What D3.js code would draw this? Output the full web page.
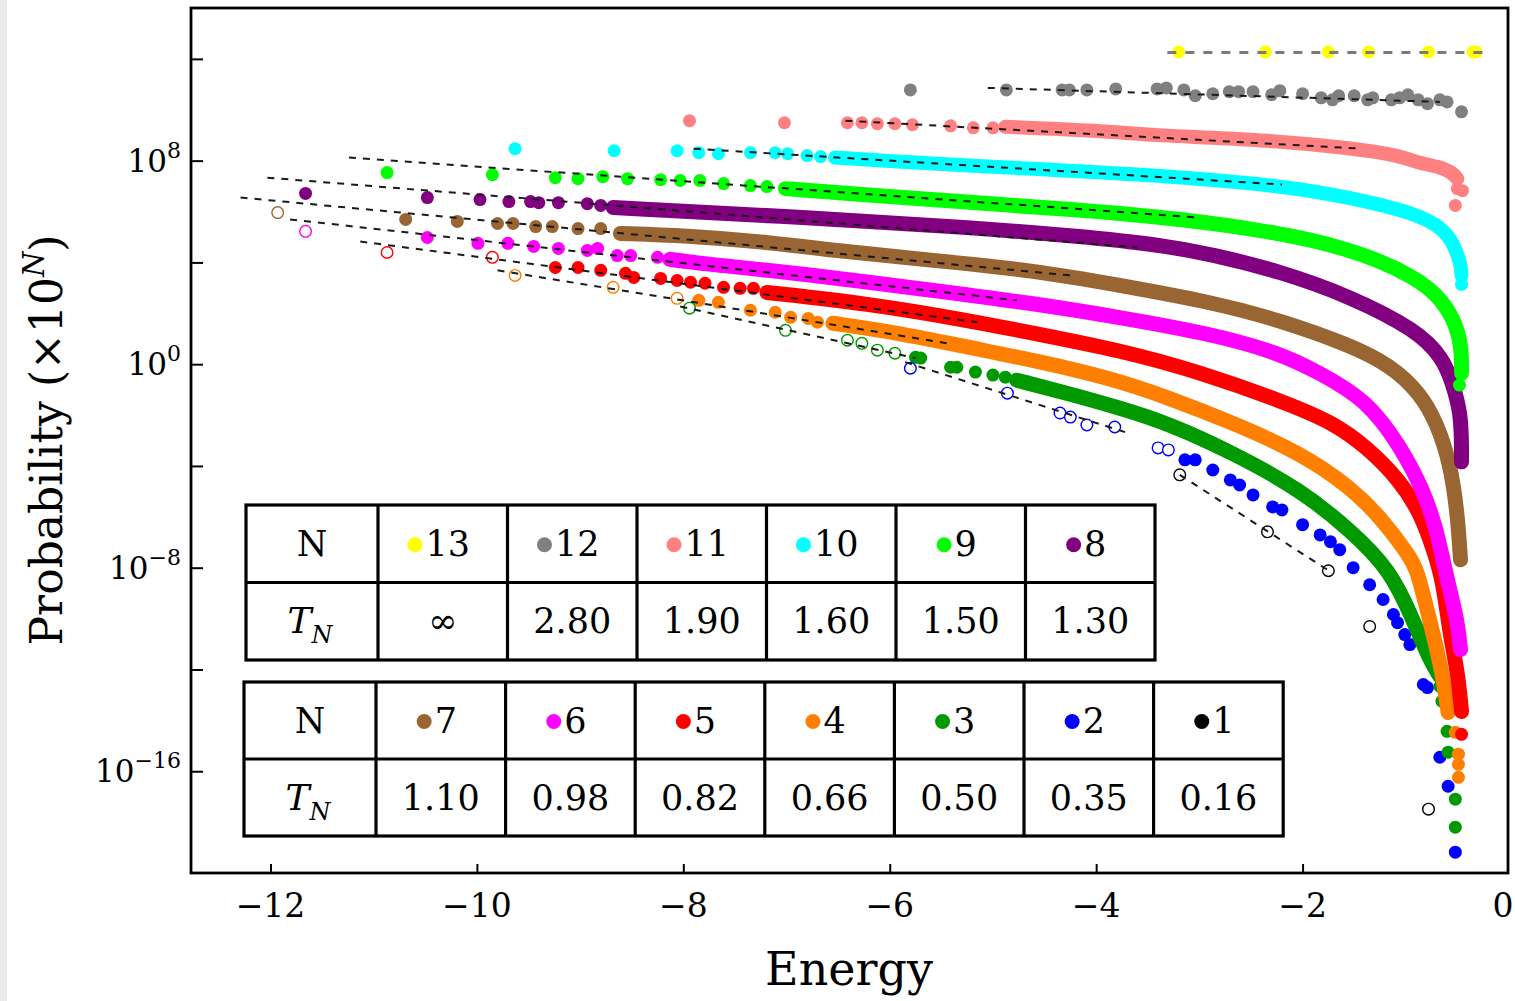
<!DOCTYPE html>
<html><head><meta charset="utf-8">
<script src="https://cdn.jsdelivr.net/npm/d3@7"></script>
<style>
html,body{margin:0;padding:0;background:#fff;}
svg{display:block;}
text{font-family:"DejaVu Serif",serif;fill:#000;}
</style></head><body>
<svg id="chart" width="1515" height="1001"></svg>
<script>
// Energy (x) and log10 of probability, in units of 10^N (y), per cluster size N.
const xTicks = [-12, -10, -8, -6, -4, -2, 0];
const yTicks = [-16, -12, -8, -4, 0, 4, 8, 12];
const yTickLabels = [-16, -8, 0, 8];

const n13Dots = [[-3.20,12.27],[-2.36,12.27],[-1.75,12.27],[-1.36,12.27],[-0.78,12.27],[-0.35,12.27],[-0.32,12.27]];
const n13Fit = [[-3.31,12.25],[-0.21,12.25]];

const n12Dots = [[-5.80,10.78],[-4.87,10.78],[-4.33,10.78],[-4.26,10.78],[-4.09,10.78],[-3.81,10.82],[-3.41,10.82],[-3.32,10.86],
  [-3.15,10.78],[-3.04,10.55],[-2.87,10.63],[-2.71,10.71],[-2.62,10.71],[-2.48,10.71],[-2.30,10.59],[-2.22,10.75],[-2.00,10.63],
  [-1.82,10.47],[-1.71,10.39],[-1.65,10.55],[-1.50,10.55],[-1.37,10.39],[-1.32,10.47],[-1.14,10.39],[-1.06,10.47],[-0.98,10.59],
  [-0.88,10.39],[-0.79,10.24],[-0.67,10.39],[-0.60,10.31],[-0.46,9.92]];
const n12Fit = [[-5.05,10.86],[-0.67,10.31]];

const n11Dots = [[-7.94,9.57],[-7.02,9.49],[-6.41,9.49],[-6.27,9.49],[-6.12,9.45],[-5.95,9.45],[-5.78,9.41],[-5.41,9.37],
  [-5.19,9.29],[-5.00,9.29],[-0.50,6.90],[-0.45,6.82],[-0.52,6.24]];
const n11Band = [[-4.88,9.33],[-3.96,9.18],[-3.41,8.98],[-2.51,8.86],[-1.54,8.51],[-1.06,8.20],[-0.89,7.92],[-0.67,7.76],[-0.55,7.53],[-0.50,7.29]];
const n11Fit = [[-6.43,9.57],[-1.42,8.47]];

const n10Dots = [[-9.63,8.47],[-8.67,8.39],[-8.06,8.39],[-7.85,8.31],[-7.66,8.27],[-7.35,8.31],[-7.11,8.31],[-6.99,8.27],
  [-6.80,8.20],[-6.67,8.16],[-0.46,3.14]];
const n10Band = [[-6.53,8.12],[-5.83,7.94],[-5.19,7.80],[-4.54,7.66],[-3.48,7.45],[-2.19,7.02],[-1.54,6.55],[-0.89,5.92],
  [-0.64,5.33],[-0.54,4.75],[-0.47,4.00],[-0.46,3.50]];
const n10Fit = [[-7.90,8.47],[-2.20,7.06]];

const n9Dots = [[-10.87,7.53],[-9.85,7.45],[-9.24,7.33],[-9.02,7.29],[-8.78,7.37],[-8.54,7.29],[-8.22,7.25],[-8.03,7.22],
  [-7.84,7.22],[-7.61,7.10],[-7.35,7.02],[-7.19,6.98],[-0.48,-0.82]];
const n9Band = [[-7.01,6.90],[-6.16,6.63],[-5.19,6.35],[-4.22,6.08],[-3.41,5.80],[-2.51,5.37],[-1.54,4.59],[-0.89,3.41],
  [-0.64,2.51],[-0.50,1.45],[-0.46,0.55],[-0.46,-0.35]];
const n9Fit = [[-11.24,8.12],[-2.99,5.76]];

const n8Dots = [[-11.66,6.71],[-10.48,6.55],[-9.97,6.47],[-9.69,6.39],[-9.48,6.39],[-9.40,6.35],[-9.21,6.35],[-8.93,6.31],[-8.80,6.24]];
const n8Band = [[-8.68,6.16],[-6.80,5.76],[-5.19,5.37],[-4.15,5.02],[-3.41,4.71],[-2.87,4.31],[-2.22,3.65],
  [-1.54,2.67],[-0.89,1.33],[-0.64,0.24],[-0.54,-0.82],[-0.47,-1.92],[-0.46,-2.98],[-0.46,-3.84]];
const n8Fit = [[-12.03,7.33],[-3.60,4.59]];

const n7Open = [[-11.93,5.96]];
const n7Dots = [[-10.69,5.69],[-10.19,5.61],[-9.80,5.53],[-9.65,5.53],[-9.43,5.41],[-9.27,5.41],[-9.02,5.33],[-8.80,5.33]];
const n7Band = [[-8.61,5.14],[-8.00,5.06],[-7.13,4.78],[-6.55,4.47],[-5.58,4.08],[-4.61,3.69],[-3.77,3.10],[-2.87,2.43],
  [-2.22,1.73],[-1.54,0.75],[-1.15,-0.04],[-0.86,-1.14],[-0.70,-2.31],[-0.57,-3.88],[-0.50,-5.84],[-0.47,-7.69]];
const n7Fit = [[-12.29,6.55],[-4.25,3.49]];

const n6Open = [[-11.66,5.22]];
const n6Dots = [[-10.48,4.98],[-9.99,4.75],[-9.70,4.75],[-9.45,4.63],[-9.21,4.55],[-8.93,4.47],[-8.83,4.55],[-8.64,4.27],
  [-8.51,4.27],[-8.25,4.20]];
const n6Band = [[-8.13,4.12],[-7.84,3.96],[-6.87,3.57],[-5.58,2.90],[-4.61,2.39],[-3.77,1.84],[-2.87,1.18],[-2.22,0.43],
  [-1.83,-0.35],[-1.38,-1.41],[-1.06,-3.18],[-0.83,-4.94],[-0.70,-6.51],[-0.60,-8.47],[-0.50,-10.04],[-0.47,-11.22]];
const n6Fit = [[-11.81,5.69],[-4.77,2.51]];

const n5Open = [[-10.87,4.39],[-9.85,4.20]];
const n5Dots = [[-9.24,3.80],[-9.02,3.80],[-8.80,3.69],[-8.56,3.57],[-8.48,3.41],[-8.22,3.37],[-8.06,3.29],[-7.93,3.22],
  [-7.79,3.18],[-7.61,3.02],[-7.45,2.98],[-7.32,2.98],[-0.46,-14.55]];
const n5Band = [[-7.19,2.82],[-6.22,2.39],[-5.25,1.73],[-4.61,1.22],[-3.77,0.55],[-2.99,-0.31],[-2.15,-1.53],[-1.70,-2.31],
  [-1.38,-3.25],[-1.06,-4.55],[-0.86,-5.84],[-0.74,-7.18],[-0.64,-8.47],[-0.57,-10.71],[-0.50,-12.00],[-0.46,-13.65]];
const n5Fit = [[-11.13,4.82],[-5.15,1.65]];

const n4Open = [[-9.63,3.49],[-8.68,3.02],[-8.06,2.59]];
const n4Dots = [[-7.85,2.51],[-7.66,2.43],[-7.35,2.12],[-7.11,2.04],[-6.96,1.84],[-6.79,1.80],[-6.70,1.65],
  [-0.52,-14.47],[-0.49,-15.33],[-0.49,-15.73],[-0.49,-16.24]];
const n4Band = [[-6.55,1.61],[-5.90,1.22],[-5.25,0.67],[-4.61,0.16],[-3.86,-0.55],[-3.31,-1.30],[-2.67,-2.31],[-2.02,-3.49],
  [-1.54,-4.82],[-1.22,-6.12],[-0.96,-7.57],[-0.89,-8.08],[-0.77,-10.04],[-0.65,-12.00],[-0.59,-13.69]];
const n4Fit = [[-9.80,3.69],[-5.44,0.82]];

const n3Open = [[-7.94,2.20],[-7.01,1.33],[-6.41,0.94],[-6.27,0.82],[-6.12,0.55],[-5.95,0.43]];
const n3Dots = [[-5.75,0.27],[-5.70,0.24],[-5.41,-0.12],[-5.35,-0.12],[-5.17,-0.31],[-5.00,-0.43],[-4.88,-0.51],
  [-0.67,-12.67],[-0.65,-13.25],[-0.60,-14.43],[-0.59,-15.25],[-0.52,-17.10],[-0.52,-18.20]];
const n3Band = [[-4.77,-0.63],[-4.28,-1.14],[-3.77,-1.72],[-3.31,-2.31],[-2.67,-3.49],[-2.02,-4.94],[-1.54,-6.51],
  [-1.15,-8.08],[-0.93,-10.04],[-0.77,-11.61],[-0.67,-12.27]];
const n3Fit = [[-8.03,2.27],[-5.75,0.24]];

const n2Open = [[-5.80,-0.16],[-4.86,-1.14],[-4.35,-1.92],[-4.25,-2.08],[-4.09,-2.39],[-3.82,-2.47],[-3.40,-3.29],[-3.30,-3.37]];
const n2Dots = [[-3.14,-3.76],[-3.04,-3.76],[-2.87,-4.16],[-2.70,-4.55],[-2.61,-4.75],[-2.48,-5.14],[-2.29,-5.61],[-2.20,-5.73],
  [-2.00,-6.31],[-1.83,-6.71],[-1.73,-6.98],[-1.64,-7.29],[-1.51,-8.00],[-1.35,-8.67],[-1.22,-9.25],[-1.12,-9.84],[-1.08,-10.16],
  [-1.01,-10.63],[-0.96,-11.02],[-0.83,-12.59],[-0.79,-12.71],[-0.67,-15.45],[-0.59,-16.59],[-0.52,-19.18]];
const n2Fit = [[-5.85,0.08],[-3.72,-2.67]];

const n1Open = [[-3.19,-4.35],[-2.34,-6.59],[-1.75,-8.12],[-1.35,-10.31],[-0.78,-17.49]];
const n1Fit = [[-3.19,-4.35],[-1.73,-8.16]];

// Table contents: cluster size N and its temperature T_N
const tableTopN = [13, 12, 11, 10, 9, 8];
const tableTopT = ["∞", "2.80", "1.90", "1.60", "1.50", "1.30"];
const tableBottomN = [7, 6, 5, 4, 3, 2, 1];
const tableBottomT = ["1.10", "0.98", "0.82", "0.66", "0.50", "0.35", "0.16"];

const colour = {1:"#000000",2:"#0000ff",3:"#009a00",4:"#ff8000",5:"#ff0000",6:"#ff00ff",7:"#996633",
  8:"#800080",9:"#00ff00",10:"#00ffff",11:"#ff8080",12:"#808080",13:"#ffff00"};

const series = [
  {n:1, open:n1Open, fit:n1Fit},
  {n:2, dots:n2Dots, open:n2Open, fit:n2Fit},
  {n:3, dots:n3Dots, band:n3Band, open:n3Open, fit:n3Fit},
  {n:4, dots:n4Dots, band:n4Band, open:n4Open, fit:n4Fit},
  {n:5, dots:n5Dots, band:n5Band, open:n5Open, fit:n5Fit},
  {n:6, dots:n6Dots, band:n6Band, open:n6Open, fit:n6Fit},
  {n:7, dots:n7Dots, band:n7Band, open:n7Open, fit:n7Fit},
  {n:8, dots:n8Dots, band:n8Band, fit:n8Fit},
  {n:9, dots:n9Dots, band:n9Band, fit:n9Fit},
  {n:10, dots:n10Dots, band:n10Band, fit:n10Fit},
  {n:11, dots:n11Dots, band:n11Band, fit:n11Fit},
  {n:12, dots:n12Dots, fit:n12Fit},
  {n:13, dots:n13Dots, fit:n13Fit}
];

const W = 1515, H = 1001;
const plot = {left:191, right:1508, top:8, bottom:873};
const svg = d3.select("#chart");
svg.append("rect").attr("width", W).attr("height", H).attr("fill", "#fff");
svg.append("rect").attr("width", 7).attr("height", H).attr("fill", "#ebebeb");

const x = d3.scaleLinear().domain([-12.77, 0]).range([plot.left, 1509]);
const y = d3.scaleLinear().domain([-20, 14]).range([plot.bottom, plot.top]);

svg.append("clipPath").attr("id", "plotClip").append("rect")
  .attr("x", plot.left).attr("y", plot.top)
  .attr("width", plot.right - plot.left).attr("height", plot.bottom - plot.top);

const marks = svg.append("g").attr("clip-path", "url(#plotClip)");
const R = 6.5;
const bandLine = d3.line().x(d => x(d[0])).y(d => y(d[1])).curve(d3.curveBasis);

// dense parts as thick strokes, sparse parts as individual dots
series.forEach(s => {
  const g = marks.append("g");
  if (s.band) {
    g.append("path").attr("d", bandLine(s.band)).attr("fill", "none")
      .attr("stroke", colour[s.n]).attr("stroke-width", s.n >= 10 ? 14 : 15)
      .attr("stroke-linecap", "round").attr("stroke-linejoin", "round");
  }
  if (s.dots) {
    g.selectAll("circle").data(s.dots).join("circle")
      .attr("cx", d => x(d[0])).attr("cy", d => y(d[1])).attr("r", R)
      .attr("fill", colour[s.n]);
  }
});

// hollow markers
series.filter(s => s.open).forEach(s => {
  marks.append("g").selectAll("circle").data(s.open).join("circle")
    .attr("cx", d => x(d[0])).attr("cy", d => y(d[1])).attr("r", 5.8)
    .attr("fill", "#fff").attr("stroke", colour[s.n]).attr("stroke-width", 1.4);
});

// dashed exponential fits
series.forEach(s => {
  const top = s.n === 13;
  marks.append("line")
    .attr("x1", x(s.fit[0][0])).attr("y1", y(s.fit[0][1]))
    .attr("x2", x(s.fit[1][0])).attr("y2", y(s.fit[1][1]))
    .attr("stroke", top ? "#7a7a7a" : "#1a1a1a")
    .attr("stroke-width", top ? 2.8 : 2)
    .attr("stroke-dasharray", top ? "9,9" : "7,7");
});

// axes: inward ticks
svg.append("g").attr("transform", `translate(${plot.left},0)`)
  .call(d3.axisLeft(y).tickValues(yTicks).tickSize(-12).tickFormat(""))
  .call(g => g.select(".domain").remove())
  .call(g => g.selectAll("line").attr("stroke", "#000").attr("stroke-width", 2));
svg.append("g").attr("transform", `translate(0,${plot.bottom})`)
  .call(d3.axisBottom(x).tickValues(xTicks.filter(t => t < 0)).tickSize(-9).tickFormat(""))
  .call(g => g.select(".domain").remove())
  .call(g => g.selectAll("line").attr("stroke", "#000").attr("stroke-width", 2));

svg.append("rect").attr("x", plot.left).attr("y", plot.top)
  .attr("width", plot.right - plot.left).attr("height", plot.bottom - plot.top)
  .attr("fill", "none").attr("stroke", "#000").attr("stroke-width", 2.8);

const fmt = v => (v < 0 ? "\u2212" : "") + Math.abs(v);

// y tick labels as powers of ten
yTickLabels.forEach(k => {
  const t = svg.append("text").attr("x", 181).attr("y", y(k) + 11)
    .attr("text-anchor", "end").attr("font-size", 31);
  t.append("tspan").text("10");
  t.append("tspan").attr("font-size", 22).attr("dy", -14).text(fmt(k));
});

// x tick labels (the last one kept inside the canvas)
svg.append("g").selectAll("text").data(xTicks).join("text")
  .attr("x", d => d === 0 ? 1503 : x(d)).attr("y", 917).attr("text-anchor", "middle")
  .attr("font-size", 33).text(d => fmt(d));

svg.append("text").attr("x", 849).attr("y", 985).attr("text-anchor", "middle")
  .attr("font-size", 46).text("Energy");

const yl = svg.append("text").attr("transform", "translate(62,440) rotate(-90)")
  .attr("text-anchor", "middle").attr("font-size", 44);
yl.append("tspan").text("Probability (\u00d710");
yl.append("tspan").attr("font-size", 29).attr("font-style", "italic").attr("dy", -18).text("N");
yl.append("tspan").attr("dy", 18).text(")");

// temperature tables
function drawTable(left, top, firstW, colW, rowH, nList, tList) {
  const g = svg.append("g");
  const width = firstW + colW * nList.length;
  g.append("rect").attr("x", left).attr("y", top).attr("width", width).attr("height", rowH * 2)
    .attr("fill", "#fff").attr("stroke", "#000").attr("stroke-width", 3.2);
  g.append("line").attr("x1", left).attr("x2", left + width).attr("y1", top + rowH).attr("y2", top + rowH)
    .attr("stroke", "#000").attr("stroke-width", 3.2);
  for (let i = 0; i < nList.length; i++) {
    const cx = left + firstW + colW * i;
    g.append("line").attr("x1", cx).attr("x2", cx).attr("y1", top).attr("y2", top + rowH * 2)
      .attr("stroke", "#000").attr("stroke-width", 3.2);
  }
  const fs = 35;
  const base1 = top + rowH / 2 + 12, base2 = top + rowH * 1.5 + 12;
  g.append("text").attr("x", left + firstW / 2).attr("y", base1).attr("text-anchor", "middle")
    .attr("font-size", fs).text("N");
  const tn = g.append("text").attr("x", left + firstW / 2 - 2).attr("y", base2).attr("text-anchor", "middle")
    .attr("font-size", fs + 1).attr("font-style", "italic");
  tn.append("tspan").text("T");
  tn.append("tspan").attr("font-size", 24).attr("dy", 10).text("N");
  nList.forEach((n, i) => {
    const cx = left + firstW + colW * i + colW / 2;
    const label = g.append("text").attr("y", base1).attr("font-size", fs).text(n);
    const tw = label.node().getComputedTextLength();
    const r = 7.5, gap = 3;
    const start = cx - (2 * r + gap + tw) / 2 - 4;
    g.append("circle").attr("cx", start + r).attr("cy", top + rowH / 2 + 1).attr("r", r).attr("fill", colour[n]);
    label.attr("x", start + 2 * r + gap);
    g.append("text").attr("x", cx).attr("y", base2).attr("text-anchor", "middle")
      .attr("font-size", fs).text(tList[i]);
  });
}
drawTable(246, 505, 132, 129.5, 77.5, tableTopN, tableTopT);
drawTable(244, 682, 132, 129.6, 77, tableBottomN, tableBottomT);
</script>
</body></html>
